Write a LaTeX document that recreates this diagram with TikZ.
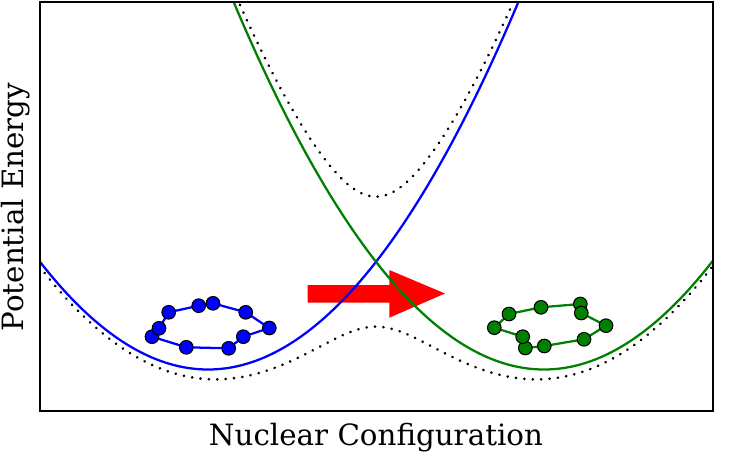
\documentclass[tikz,border=0pt]{standalone}
\usepackage{fontspec}
\usetikzlibrary{decorations.markings}
\setmainfont{DejaVu Serif}
\tikzset{
  declare function={
    fb(\x)=0.00382*(\x-208)*(\x-208);
    fg(\x)=0.00382*(\x-544)*(\x-544);
    fm(\x)=0.00382*(\x-376)*(\x-376)+107.82;
    fd(\x)=100*sqrt(0.012835*(\x-376)*0.012835*(\x-376)+0.65*0.65);
  },
  curve/.style={line width=1.7pt,line join=round},
  dotcurve/.style={decoration={markings,mark=between positions 0 and 1 step 6.3pt with {\fill[black] (0,0) circle (1.1pt);}},decorate},
  bluebead/.style={circle,draw=black,line width=0.8pt,fill=blue,inner sep=0pt,minimum size=10.2pt},
  greenbead/.style={circle,draw=black,line width=0.8pt,fill=green!50!black,inner sep=0pt,minimum size=10.2pt},
  bluebond/.style={draw=blue,line width=1.7pt},
  greenbond/.style={draw=green!50!black,line width=1.7pt},
  axislabel/.style={font=\fontsize{22}{26}\selectfont,inner sep=0pt,text=black},
}
\begin{document}
\begin{tikzpicture}[x=0.75pt,y=-0.75pt]
\useasboundingbox (0,0) rectangle (752,452);
\begin{scope}
  \clip (39.5,2) rectangle (713,411);
  \fill[red] (307.5,285) -- (389.3,285) -- (389.3,270) -- (445,293.5) -- (389.3,317.7) -- (389.3,302.5) -- (307.5,302.5) -- cycle;
  \draw[curve,blue] plot[domain=39.5:525,samples=160,smooth] (\x,{369.5-fb(\x)});
  \draw[curve,green!50!black] plot[domain=225:713,samples=160,smooth] (\x,{369.5-fg(\x)});
  \path[dotcurve] plot[domain=39.5:713,samples=220] (\x,{369.5-fm(\x)+fd(\x)});
  \path[dotcurve] plot[domain=240:512,samples=120] (\x,{369.5-fm(\x)-fd(\x)});
\end{scope}
\draw[black,line width=1.5pt] (39.5,2) rectangle (713,411);
% blue molecule
\foreach \n/\p in {1/{152,336.7},2/{159,328.3},3/{168.7,312.3},4/{198.7,305.7},5/{213,303.3},6/{245.7,312.3},7/{269.3,328},8/{243.3,336.7},9/{228.7,348.3},10/{186.3,347.3}}
  \coordinate (bc\n) at (\p);
\foreach \a/\b in {1/2,2/3,3/4,4/5,5/6,6/7,7/8,8/9,9/10,10/1}
  \draw[bluebond] (bc\a) -- (bc\b);
\foreach \n in {1,...,10}
  \node[bluebead] (b\n) at (bc\n) {};
% green molecule
\foreach \n/\p in {1/{494.3,327.7},2/{509,314},3/{541,307.3},4/{580.3,304},5/{581.3,313},6/{606,325.7},7/{584,339.3},8/{544.3,346},9/{525.3,348},10/{522.7,336.7}}
  \coordinate (gc\n) at (\p);
\foreach \a/\b in {1/2,2/3,3/4,4/5,5/6,6/7,7/8,8/9,9/10,10/1}
  \draw[greenbond] (gc\a) -- (gc\b);
\foreach \n in {1,...,10}
  \node[greenbead] (g\n) at (gc\n) {};
\node[axislabel] (xl) at (376,438) {Nuclear Configuration};
\node[axislabel,rotate=90] (yl) at (15.5,207) {Potential Energy};
\end{tikzpicture}
\end{document}
